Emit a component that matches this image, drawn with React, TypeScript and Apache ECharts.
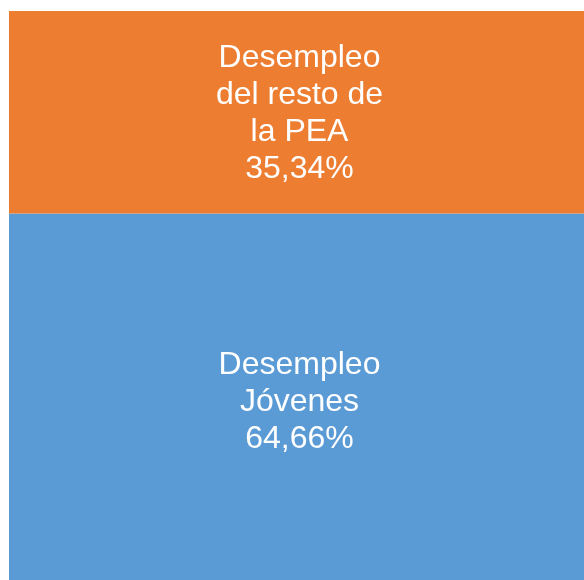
import React, { useEffect, useRef } from "react";
import * as echarts from "echarts";

const categories = ["Desempleo"];
const seriesNames = ["Desempleo\nJóvenes", "Desempleo\ndel resto de\nla PEA"];
const seriesValues = [64.66, 35.34];
const seriesColors = ["#5B9BD5", "#ED7D31"];

export default function App() {
  const ref = useRef<HTMLDivElement>(null);
  useEffect(() => {
    if (!ref.current) return;
    const chart = echarts.init(ref.current, null, { renderer: "svg" });
    chart.setOption({
      animation: false,
      grid: { left: 9, right: 0, top: 11, bottom: 0 },
      xAxis: { type: "category", data: categories, show: false },
      yAxis: { type: "value", min: 0, max: 100, show: false },
      series: seriesNames.map((name, i) => ({
        type: "bar",
        name,
        stack: "total",
        barWidth: "100%",
        data: [seriesValues[i]],
        itemStyle: { color: seriesColors[i] },
        label: {
          show: true,
          position: "inside",
          offset: [2, i === 0 ? 1 : -1],
          color: "#ffffff",
          fontFamily: "Liberation Sans",
          fontSize: 32,
          lineHeight: 37,
          align: "center",
          formatter: (p: any) =>
            `${p.seriesName}\n${Number(p.value).toFixed(2).replace(".", ",")}%`,
        },
      })),
    });
    return () => chart.dispose();
  }, []);
  return (
    <div
      ref={ref}
      style={{ position: "fixed", left: 0, top: 0, width: 586, height: 584 }}
    />
  );
}
